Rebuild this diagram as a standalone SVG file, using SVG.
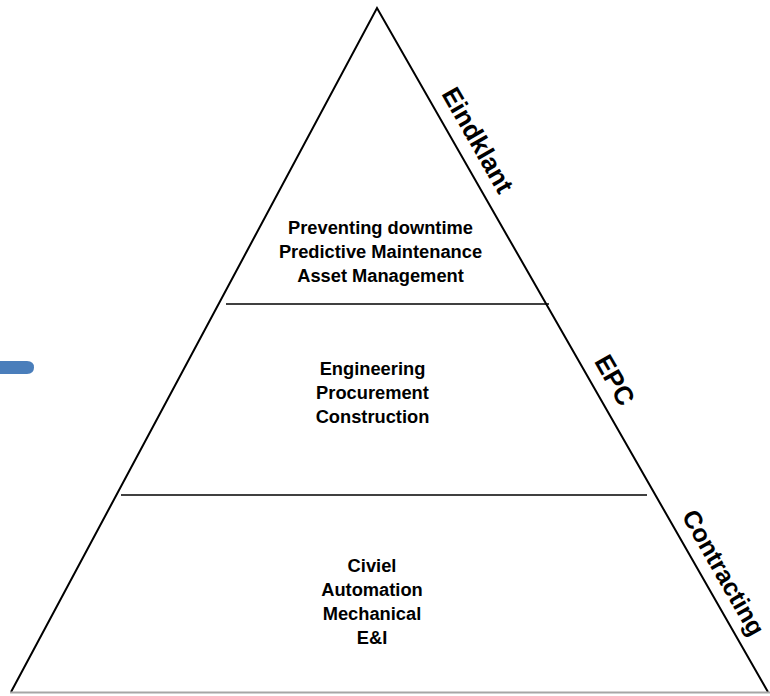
<svg xmlns="http://www.w3.org/2000/svg" width="770" height="696" viewBox="0 0 770 696">
<style>
.edge{fill:none;stroke:#000;stroke-width:2}
.div{fill:none;stroke:#000;stroke-width:1.6}
.base{fill:none;stroke:#a6a6a6;stroke-width:2}
.body{font-family:"Liberation Sans",Arial,sans-serif;font-weight:bold;font-size:18.3px;fill:#000;text-anchor:middle}
.side{font-family:"Liberation Sans",Arial,sans-serif;font-weight:bold;font-size:26px;fill:#000;text-anchor:middle}
</style>
<rect width="770" height="696" fill="#fff"/>
<g id="connectors">
<polyline class="edge" points="11,692 377,8 768,692"/>
<line class="base" x1="10" y1="692.5" x2="770" y2="692.5"/>
<line class="div" x1="226" y1="304" x2="549" y2="304"/>
<line class="div" x1="121" y1="495" x2="647" y2="495"/>
</g>
<g id="marker-blue">
<path d="M0,361 H27 Q34,361 34,367.5 Q34,374 27,374 H0 Z" fill="#4A7EBB"/>
</g>
<g id="tier-top">
<text class="body" x="380.5" y="234">Preventing downtime</text>
<text class="body" x="380.5" y="258">Predictive Maintenance</text>
<text class="body" x="380.5" y="282">Asset Management</text>
</g>
<g id="tier-middle">
<text class="body" x="372.5" y="374.5">Engineering</text>
<text class="body" x="372.5" y="398.5">Procurement</text>
<text class="body" x="372.5" y="422.5">Construction</text>
</g>
<g id="tier-bottom">
<text class="body" x="372" y="571.5">Civiel</text>
<text class="body" x="372" y="595.5">Automation</text>
<text class="body" x="372" y="619.5">Mechanical</text>
<text class="body" x="372" y="643.5">E&amp;I</text>
</g>
<g id="label-eindklant">
<text class="side" transform="translate(470,144.5) rotate(60.24)">Eindklant</text>
</g>
<g id="label-epc">
<text class="side" transform="translate(607,384.5) rotate(60.24)">EPC</text>
</g>
<g id="label-contracting">
<text class="side" style="font-size:25px" transform="translate(716,577) rotate(60.24)">Contracting</text>
</g>
</svg>
